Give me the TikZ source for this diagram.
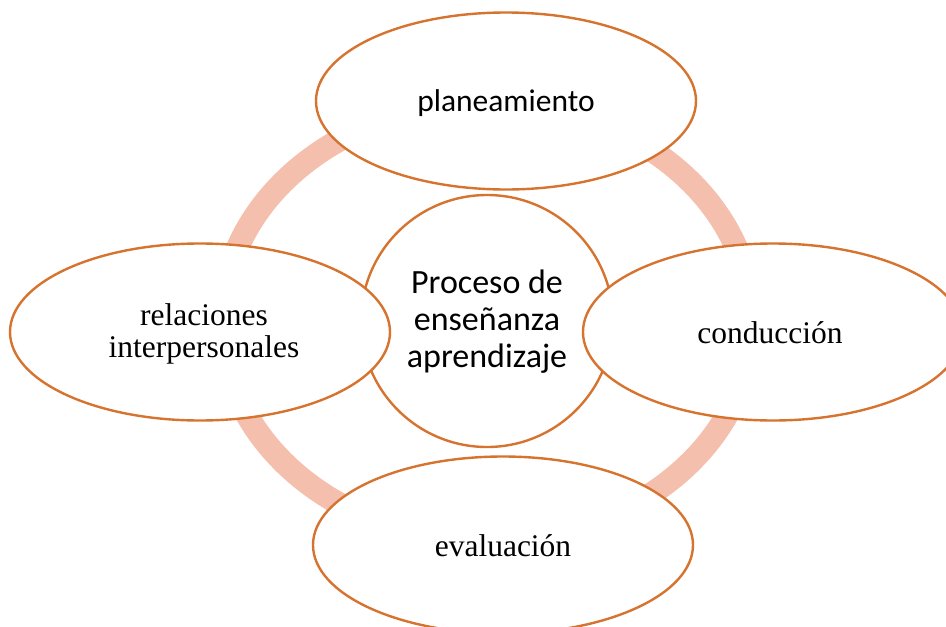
\documentclass[tikz,border=0pt]{standalone}
\usepackage{fontspec}
\setmainfont{Liberation Serif}
\newfontfamily\calibri{Carlito}
\usetikzlibrary{shapes.geometric}
\definecolor{outl}{HTML}{D5732F}
\definecolor{ringc}{HTML}{F4C0AD}
\tikzset{
  ringline/.style={draw=ringc, line width=23pt},
  bubble/.style={ellipse, draw=outl, line width=2.4pt, fill=white, inner sep=0pt,
                 minimum width=380pt, minimum height=177pt},
  hub/.style={circle, draw=outl, line width=2.4pt, fill=white, inner sep=0pt,
              minimum size=252pt},
  seriftxt/.style={anchor=base, align=center, inner sep=0pt,
                   font=\fontsize{31.5}{32}\selectfont},
  sanstxt/.style={anchor=base, align=center, inner sep=0pt,
                  font=\calibri\fontsize{31.5}{37}\selectfont},
  hubtxt/.style={sanstxt, font=\calibri\fontsize{34}{37}\selectfont}
}
\begin{document}
\begin{tikzpicture}[x=1pt,y=-1pt]
\useasboundingbox (0,0) rectangle (946,627);
\clip (0,0) rectangle (946,627);
\coordinate (ringc) at (487,322);
\draw[ringline] (ringc) ellipse [x radius=265pt, y radius=219pt];
\node[hub] (hubc) at (487,321) {};
\node[bubble] (plan) at (506,101) {};
\node[bubble] (rel) at (200,332) {};
\node[bubble] (cond) at (773,332) {};
\node[bubble] (eval) at (503,545) {};
\node[hubtxt] (hubt) at (487,367) {Proceso de\\enseñanza\\aprendizaje};
\node[sanstxt] (plant) at (506,111.5) {planeamiento};
\node[seriftxt] (relt) at (204,357) {relaciones\\interpersonales};
\node[seriftxt] (condt) at (770,343) {conducción};
\node[seriftxt] (evalt) at (503,556) {evaluación};
\end{tikzpicture}
\end{document}
